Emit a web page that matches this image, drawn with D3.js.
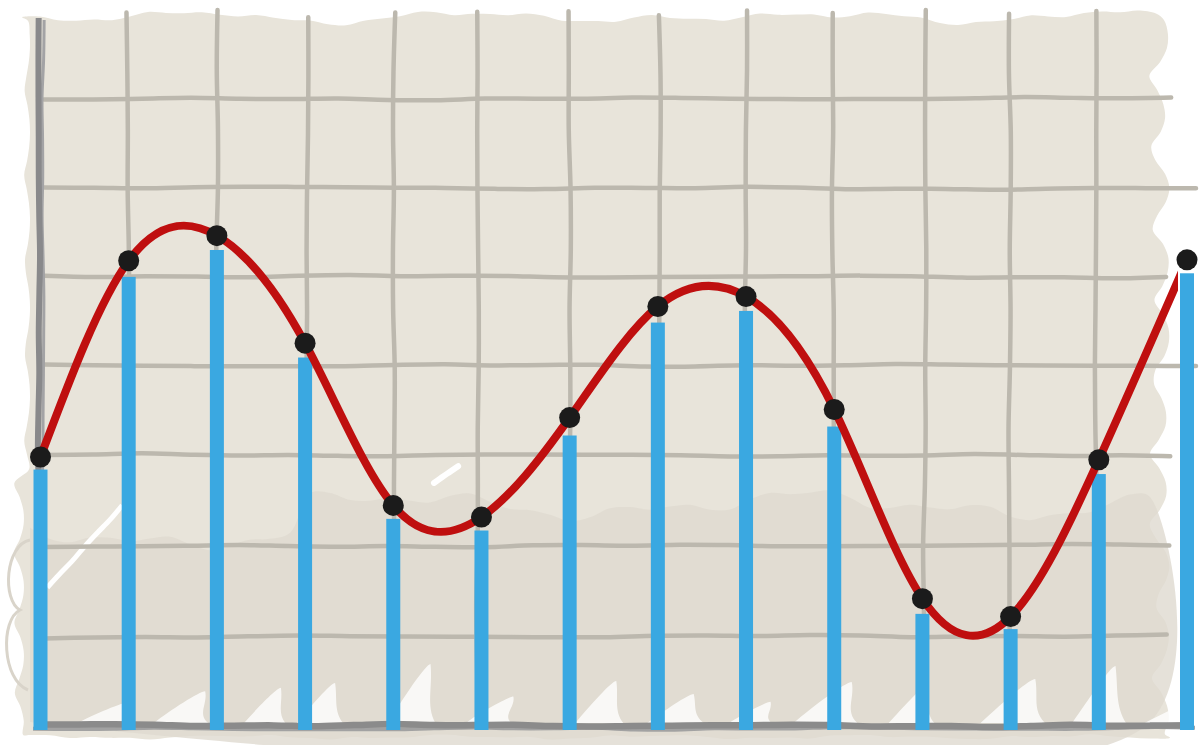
<!DOCTYPE html>
<html><head><meta charset="utf-8">
<script src="https://cdn.jsdelivr.net/npm/d3@7"></script>
<style>html,body{margin:0;padding:0;background:#fff;overflow:hidden}</style>
</head><body>
<svg id="chart" width="1200" height="745"></svg>
<script>
// ---- data ----
const categories = ["1","2","3","4","5","6","7","8","9","10","11","12","13","14"];
const lineValues = [2.99, 5.18, 5.46, 4.26, 2.45, 2.32, 3.43, 4.67, 4.78, 3.52, 1.41, 1.21, 2.96, 5.19];
const barValues  = [2.85, 5.00, 5.30, 4.10, 2.30, 2.17, 3.23, 4.49, 4.62, 3.33, 1.24, 1.07, 2.80, 5.04];
const gridTicks  = [1, 2, 3, 4, 5, 6, 7];

// ---- setup ----
const svg = d3.select('#chart');
const x = d3.scalePoint().domain(categories).range([40.5, 1187]);
const y = d3.scaleLinear().domain([0, 8]).range([725, 8]);
const baseY = 730;

function noise(t, s){ return Math.sin(t*0.9+s*1.3)*0.5 + Math.sin(t*2.3+s*2.9)*0.3 + Math.sin(t*5.1+s*0.7)*0.2; }
function wobbly(x0,y0,x1,y1,amp,seed,step){
  step = step||30;
  const len=Math.hypot(x1-x0,y1-y0), n=Math.max(2,Math.round(len/step));
  const nx=-(y1-y0)/len, ny=(x1-x0)/len;
  const pts=d3.range(n+1).map(i=>{const t=i/n; const o=amp*noise(i*0.8,seed); return [x0+(x1-x0)*t+nx*o, y0+(y1-y0)*t+ny*o];});
  return d3.line().curve(d3.curveCatmullRom)(pts);
}

// ---- paper blob ----
const blob = [];
for (let px=22; px<=1172; px+=18) blob.push([px, 14 + 7*noise(px/45,1) + 5*Math.abs(Math.sin(px/70))]);
for (let py=20; py<=735; py+=14) blob.push([1150 + 18*Math.abs(Math.sin(py/24)) + 4*noise(py/50,2), py]);
for (let px=1170; px>=22; px-=20) blob.push([px, 737 + 3*noise(px/30,3)]);
for (let py=735; py>=20; py-=14) blob.push([py>480 ? 14 + 10*Math.abs(Math.sin(py/22)) : 24 + 6*Math.abs(Math.sin(py/28)), py]);
svg.append('path').attr('d', d3.line().curve(d3.curveCatmullRomClosed)(blob)).attr('fill', '#e8e4da');

// darker lower wash
const wash = [];
for (let px=30; px<=1150; px+=20) wash.push([px, 505 + 18*noise(px/60,4) + (px<300 ? 30 : 0)]);
wash.push([1150, 722]); wash.push([30, 722]);
svg.append('path').attr('d', d3.line().curve(d3.curveCatmullRom)(wash)).attr('fill', '#dfdad0').attr('opacity', 0.8);

// white brush gaps near the bottom
const streaks = svg.append('g').attr('fill', '#ffffff');
for (let i=0; i<14; i++){
  const sx = 70 + i*82 + 25*noise(i*1.3,5);
  const h = 20 + 40*Math.abs(noise(i*1.7,6));
  const w = 40 + 30*Math.abs(noise(i*2.1,7));
  const lean = 10 + 15*Math.abs(noise(i*0.9,8));
  streaks.append('path')
    .attr('d', `M${sx},723 C${sx+w*0.3},${723-h*0.4} ${sx+w*0.5+lean},${723-h} ${sx+w*0.6+lean},${723-h} C${sx+w*0.65+lean},${723-h*0.6} ${sx+w*0.8},${723-h*0.3} ${sx+w},723 Z`)
    .attr('opacity', 0.8);
}
// diagonal white highlights
svg.append('path').attr('d', wobbly(48,588,122,505,1,8,20)).attr('stroke','#fff').attr('stroke-width',5).attr('fill','none');
svg.append('path').attr('d', wobbly(434,483,458,466,0.5,9,10)).attr('stroke','#fff').attr('stroke-width',6).attr('stroke-linecap','round').attr('fill','none');

// left outline scribbles
svg.append('path').attr('d', 'M30,540 C5,545 2,600 20,610 C0,620 2,680 28,690').attr('stroke','#d9d4ca').attr('stroke-width',3).attr('fill','none');

// ---- grid ----
const grid = svg.append('g').attr('stroke', '#bcb8ae').attr('stroke-width', 4.5).attr('fill', 'none').attr('stroke-linecap','round');
gridTicks.forEach((t,i)=>{
  const yy = y(t);
  const xEnd = (t===4 || t===6) ? 1196 : 1165 + 12*Math.abs(noise(i,10));
  grid.append('path').attr('d', wobbly(44, yy + 2*noise(i,11), xEnd, yy + 2*noise(i,12), 1.6, i+20, 50));
});
categories.slice(1, 13).forEach((c,i)=>{
  const xx = x(c) + 3*noise(i*1.9,13);
  const top = 10 + 8*Math.abs(noise(i,14));
  grid.append('path').attr('d', wobbly(xx + 2*noise(i,15), top, xx + 2*noise(i,16), 724, 1.6, i+40, 60));
});

// ---- axes ----
svg.append('path').attr('d', wobbly(33, 729, 1195, 728, 1.5, 60, 40)).attr('stroke','#a2a2a2').attr('stroke-width',4).attr('fill','none');
svg.append('path').attr('d', wobbly(35, 725, 1190, 726, 1.5, 61, 40)).attr('stroke','#8b8b8b').attr('stroke-width',6.5).attr('fill','none');
svg.append('path').attr('d', wobbly(43, 20, 43, 728, 1.5, 62, 40)).attr('stroke','#a3a3a5').attr('stroke-width',3).attr('fill','none');
svg.append('path').attr('d', wobbly(39, 18, 39, 728, 1.2, 63, 40)).attr('stroke','#89898b').attr('stroke-width',6).attr('fill','none');

// ---- bars ----
svg.append('g').selectAll('rect').data(barValues).join('rect')
  .attr('x', (d,i)=>x(categories[i]) - 7)
  .attr('width', 14)
  .attr('y', d=>y(d))
  .attr('height', d=>baseY - y(d))
  .attr('fill', '#3aa8e1');

// ---- curve ----
svg.append('clipPath').attr('id','lineclip').append('rect').attr('x',0).attr('y',0).attr('width',1178).attr('height',745);
svg.append('path')
  .datum(lineValues)
  .attr('d', d3.line().x((d,i)=>x(categories[i])).y(d=>y(d)).curve(d3.curveNatural))
  .attr('fill','none').attr('stroke','#bf0f0f').attr('stroke-width',8)
  .attr('clip-path','url(#lineclip)');

// ---- dots ----
svg.append('g').selectAll('circle').data(lineValues).join('circle')
  .attr('cx', (d,i)=>x(categories[i]))
  .attr('cy', d=>y(d))
  .attr('r', 10.5)
  .attr('fill', '#1b1b1b');
</script>
</body></html>
